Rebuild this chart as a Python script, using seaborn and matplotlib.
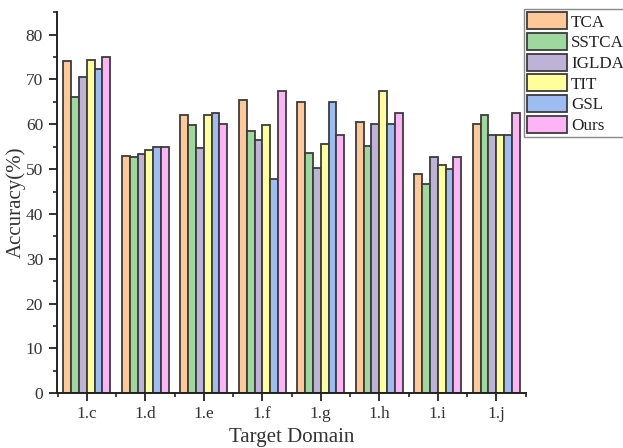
import numpy as np
import pandas as pd
import matplotlib
matplotlib.use("Agg")
import matplotlib.pyplot as plt
import seaborn as sns
from matplotlib.ticker import MultipleLocator, FixedLocator

# Target domains and methods compared
domains = ["1.c", "1.d", "1.e", "1.f", "1.g", "1.h", "1.i", "1.j"]
methods = ["TCA", "SSTCA", "IGLDA", "TIT", "GSL", "Ours"]

# Accuracy (%) per method on each target domain
tca = [74.0, 53.0, 62.0, 65.4, 65.0, 60.4, 49.0, 60.0]
sstca = [66.0, 52.7, 59.8, 58.6, 53.6, 55.2, 46.7, 62.0]
iglda = [70.6, 53.4, 54.8, 56.4, 50.2, 60.1, 52.6, 57.5]
tit = [74.3, 54.3, 62.0, 59.8, 55.6, 67.3, 51.0, 57.5]
gsl = [72.4, 55.0, 62.6, 47.7, 65.0, 60.1, 50.1, 57.5]
ours = [74.9, 55.0, 60.0, 67.3, 57.6, 62.5, 52.7, 62.5]

colors = ["#FEC898", "#9ED89C", "#BFB2D9", "#FEFE9A", "#9CBCF2", "#FDB4F7"]

series = [tca, sstca, iglda, tit, gsl, ours]
df = pd.DataFrame({
    "domain": np.tile(domains, len(methods)),
    "method": np.repeat(methods, len(domains)),
    "acc": np.concatenate(series),
})

sns.set_style("ticks")
plt.rcParams["font.family"] = ["Liberation Serif", "DejaVu Serif"]
plt.rcParams["axes.linewidth"] = 1.4

fig = plt.figure(figsize=(6.23, 4.48), dpi=100)
ax = fig.add_axes([0.0915, 0.122, 0.752, 0.851])

sns.barplot(data=df, x="domain", y="acc", hue="method", order=domains,
            hue_order=methods, palette=colors, saturation=1, width=0.8,
            edgecolor="#3c3c3c", linewidth=1.3, ax=ax, legend=True)

ax.set_xlim(-0.51, 7.5)
ax.set_ylim(0, 85)
ax.yaxis.set_major_locator(MultipleLocator(10))
ax.yaxis.set_minor_locator(MultipleLocator(5))
ax.xaxis.set_minor_locator(FixedLocator(np.arange(-0.5, 8.0, 1.0)))
ax.tick_params(axis="both", which="major", direction="out", length=6,
               width=1.3, colors="#222222", labelsize=12.5)
ax.tick_params(axis="x", which="major", pad=3)
ax.tick_params(axis="both", which="minor", direction="out", length=3,
               width=1.2, colors="#222222")
ax.tick_params(axis="y", which="major", pad=4)
for lbl in ax.get_xticklabels() + ax.get_yticklabels():
    lbl.set_color("#333333")

sns.despine(ax=ax, top=True, right=True)
for sp in ax.spines.values():
    sp.set_color("#222222")

ax.set_xlabel("Target Domain", fontsize=15, color="#333333")
ax.set_ylabel("Accuracy(%)", fontsize=15, color="#333333")
ax.xaxis.set_label_coords(0.5, -0.092)
ax.yaxis.set_label_coords(-0.066, 0.5)

handles, labels = ax.get_legend_handles_labels()
ax.get_legend().remove()
leg = fig.legend(handles, labels, loc="upper left",
                 bbox_to_anchor=(524 / 623, 1 - 9 / 448),
                 bbox_transform=fig.transFigure, fontsize=12.3,
                 frameon=True, fancybox=False, framealpha=1,
                 edgecolor="#888888", handlelength=2.3, handleheight=1.15,
                 handletextpad=0.25, labelspacing=0.14, borderpad=0.2,
                 borderaxespad=0)
leg.get_frame().set_linewidth(1.0)
for t in leg.get_texts():
    t.set_color("#222222")

fig.savefig("out.png", dpi=100)
